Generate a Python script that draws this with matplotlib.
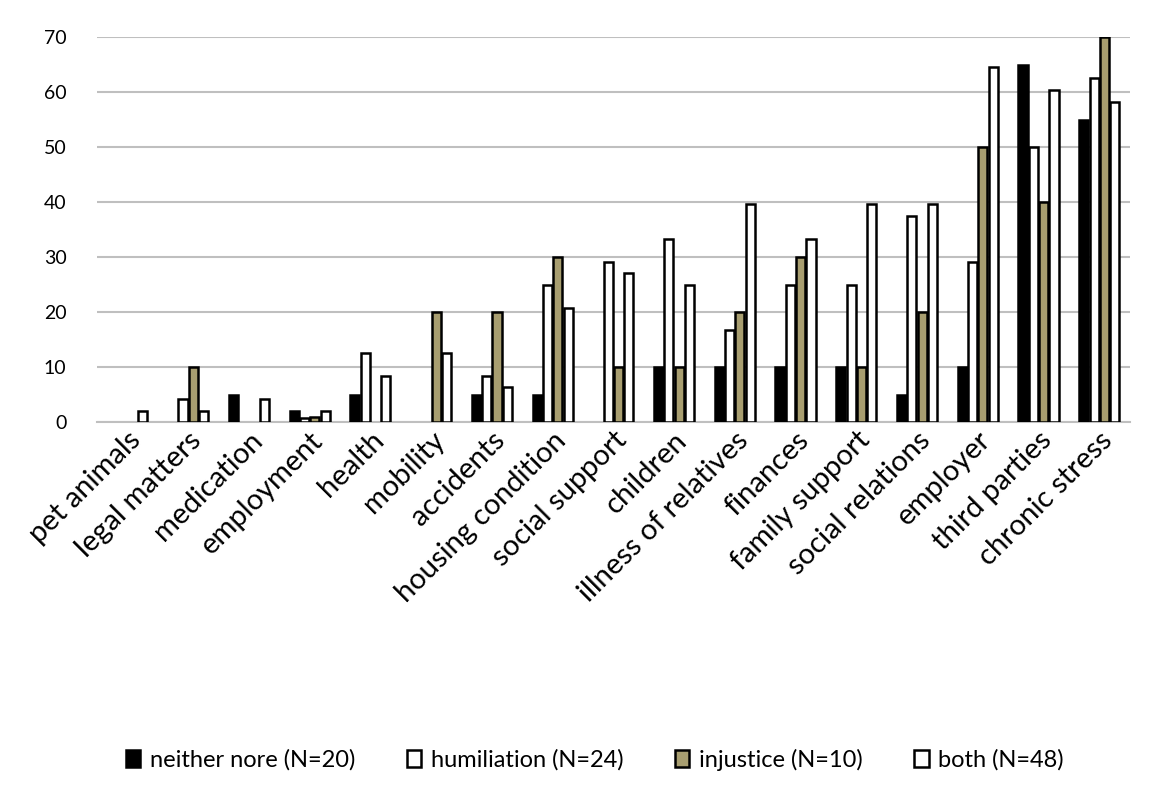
import matplotlib.pyplot as plt
import numpy as np

plt.rcParams['font.family'] = ['Lato', 'DejaVu Sans']

# data (percent)
categories = ["pet animals", "legal matters", "medication", "employment", "health",
              "mobility", "accidents", "housing condition", "social support", "children",
              "illness of relatives", "finances", "family support", "social relations",
              "employer", "third parties", "chronic stress"]
neither = [0, 0, 5, 2, 5, 0, 5, 5, 0, 10, 10, 10, 10, 5, 10, 65, 55]
humiliation = [0, 4.2, 0, 0.8, 12.5, 0, 8.3, 25, 29.2, 33.3, 16.7, 25, 25, 37.5, 29.2, 50, 62.5]
injustice = [0, 10, 0, 1, 0, 20, 20, 30, 10, 10, 20, 30, 10, 20, 50, 40, 70]
both = [2.1, 2.1, 4.2, 2.1, 8.3, 12.5, 6.3, 20.8, 27.1, 25, 39.6, 33.3, 39.6, 39.6, 64.6, 60.4, 58.3]

series = [
    ("neither nore (N=20)", neither, "black"),
    ("humiliation (N=24)", humiliation, "white"),
    ("injustice (N=10)", injustice, "#a89e70"),
    ("both (N=48)", both, "white"),
]

fig = plt.figure(figsize=(11.55, 7.92), dpi=100)
ax = fig.add_axes([0.084, 0.467, 0.894, 0.486])

x = np.arange(len(categories))
w = 0.17
for i, (name, vals, col) in enumerate(series):
    v = np.array(vals, dtype=float)
    v[v == 0] = np.nan  # empty cells are not drawn
    ax.bar(x + (i - 1.5) * w, v, w * 0.88, color=col, edgecolor="black",
           linewidth=1.8, label=name, zorder=3)

ax.set_xlim(-0.5, len(categories) - 0.5)
ax.set_ylim(0, 70)
ax.set_yticks(range(0, 71, 10))
ax.grid(axis="y", color="#bfbfbf", linewidth=1.5, zorder=0)
for s in ["top", "right", "left"]:
    ax.spines[s].set_visible(False)
ax.spines["bottom"].set_color("#bfbfbf")
ax.spines["bottom"].set_linewidth(1.5)
ax.tick_params(axis="both", length=0)
ax.tick_params(axis="y", labelsize=14, pad=22)
ax.set_xticks(x)
ax.set_xticklabels(categories, rotation=45, ha="right", rotation_mode="anchor", fontsize=21)

fig.legend(loc="center", bbox_to_anchor=(0.515, 0.041), ncol=4, frameon=False,
           fontsize=17, handlelength=0.6, handleheight=0.7, columnspacing=2.2,
           handletextpad=0.4)

fig.savefig("out.png", dpi=100)
